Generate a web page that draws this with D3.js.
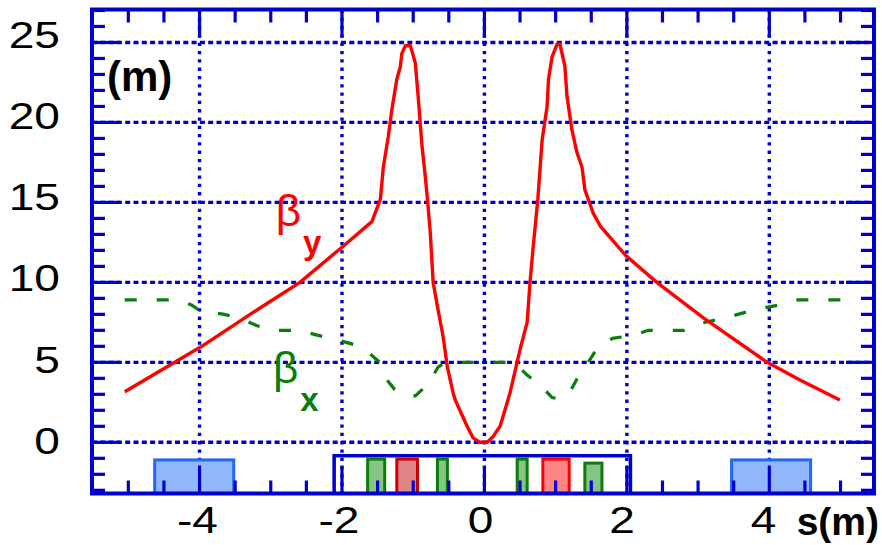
<!DOCTYPE html>
<html>
<head>
<meta charset="utf-8">
<script src="https://cdn.jsdelivr.net/npm/d3@7"></script>
<style>
  body { margin: 0; background: #fff; }
  text { font-family: "Liberation Sans", Arial, sans-serif; }
</style>
</head>
<body>
<svg class="beta-svg"></svg>
<script>
// beta functions around the IP (s in m, beta in m)
const beta_y_s = [-5.05, -3.98, -3.29, -2.59, -2.00, -1.58, -1.46, -1.42, -1.35, -1.30, -1.23, -1.18, -1.16, -1.11, -1.04,
  -0.97, -0.93, -0.88, -0.83, -0.80, -0.76, -0.72, -0.66, -0.58, -0.52, -0.44, -0.41, -0.24, -0.16, -0.06,
  0.04, 0.12, 0.22, 0.33, 0.36, 0.50, 0.60, 0.64, 0.68, 0.75, 0.81, 0.88, 0.90, 0.95, 1.02, 1.06,
  1.13, 1.16, 1.23, 1.30, 1.37, 1.41, 1.53, 1.63, 1.98, 2.42, 3.07, 3.97, 4.43, 4.99];
const beta_y = [3.16, 5.97, 8.0, 10.0, 12.2, 13.8, 15.2, 17.2, 19.1, 20.8, 22.7, 23.5, 24.3, 24.8, 24.8,
  23.7, 21.6, 18.7, 16.6, 15.2, 13.1, 10.0, 8.5, 6.6, 4.7, 3.1, 2.65, 0.97, 0.28, 0.0,
  0.0, 0.35, 1.0, 2.65, 3.1, 5.8, 7.5, 10.0, 12.0, 15.2, 18.9, 21.0, 22.7, 24.1, 24.9, 24.9,
  23.5, 21.6, 19.5, 18.1, 17.2, 15.8, 14.3, 13.5, 11.7, 10.0, 7.8, 5.0, 3.9, 2.65];

const beta_x_s = [-5.05, -4.3, -4.12, -3.98, -3.65, -3.4, -3.2, -3.0, -2.6, -2.35, -2.15, -1.9, -1.75, -1.6, -1.47,
  -1.35, -1.26, -1.1, -0.97, -0.8, -0.65, -0.55, 0.42, 0.6, 0.78, 0.95, 1.06, 1.22, 1.35, 1.47,
  1.6, 1.8, 2.1, 2.3, 2.8, 3.0, 3.4, 3.8, 4.15, 4.35, 5.2];
const beta_x = [8.9, 8.9, 8.6, 8.2, 8.0, 7.7, 7.3, 7.0, 7.0, 6.7, 6.5, 6.2, 6.0, 5.5, 5.0,
  3.8, 3.3, 2.9, 2.9, 3.6, 4.7, 5.0, 5.0, 4.2, 3.6, 2.8, 2.7, 3.3, 4.4, 5.1,
  6.0, 6.5, 6.7, 7.0, 7.0, 7.4, 7.8, 8.3, 8.6, 8.9, 8.9];

// magnets drawn under the axis (s from / to, top in beta units)
const magnet_kind = ["sol", "quad", "bendDark", "quad", "quad", "bend", "quad", "sol"];
const magnet_from = [-4.63, -1.64, -1.23, -0.66, 0.46, 0.82, 1.41, 3.47];
const magnet_to = [-3.52, -1.40, -0.94, -0.52, 0.60, 1.19, 1.65, 4.58];
const magnet_top = [-1.1, -1.05, -1.05, -1.05, -1.05, -1.05, -1.3, -1.1];
const detector = [-2.11, 2.05, -0.84];

const x_major = [-4, -2, 0, 2, 4];
const y_major = [0, 5, 10, 15, 20, 25];
const x_minor = d3.range(-5, 5.01, 0.5).filter(v => v % 2 != 0);
const y_minor = d3.range(-3, 27.01, 1).filter(v => v % 5 != 0);

const kind_style = {
  sol: { fill: "#92b6fb", stroke: "#1d6af7" },
  quad: { fill: "#86c486", stroke: "#0a7d0a" },
  bendDark: { fill: "#e08585", stroke: "#cc0000" },
  bend: { fill: "#ff8585", stroke: "#ff0000" }
};

const width = 882, height = 545;
const frame = "#0000cc";

const svg = d3.select('.beta-svg')
  .attr('width', width)
  .attr('height', height);

const x = d3.scaleLinear().domain([-5.51, 5.47]).range([92, 874]);
const y = d3.scaleLinear().domain([-3.2, 27.06]).range([493.5, 9.5]);
// the tick labels sit on a slightly different spacing than the grid
const label_x = d3.scaleLinear().domain([-4, 4]).range([197.5, 763.5]);
const label_y = d3.scaleLinear().domain([0, 25]).range([441, 34.5]);

const x0 = x.range()[0], x1 = x.range()[1];
const y0 = y.range()[0], y1 = y.range()[1];

// grid
svg.append('g').selectAll('line')
  .data(y_major).enter().append('line')
  .attr('x1', x0).attr('x2', x1)
  .attr('y1', d => y(d)).attr('y2', d => y(d))
  .attr('stroke', frame).attr('stroke-width', 3.4)
  .attr('stroke-dasharray', '5,3.3');

svg.append('g').selectAll('line')
  .data(x_major).enter().append('line')
  .attr('x1', d => x(d)).attr('x2', d => x(d))
  .attr('y1', y1).attr('y2', y0)
  .attr('stroke', frame).attr('stroke-width', 3.4)
  .attr('stroke-dasharray', '3.3,5');

// magnets
const magnets = magnet_kind.map((k, i) => ({ kind: k, from: magnet_from[i], to: magnet_to[i], top: magnet_top[i] }));
svg.append('g').selectAll('rect')
  .data(magnets).enter().append('rect')
  .attr('x', d => x(d.from))
  .attr('y', d => y(d.top))
  .attr('width', d => x(d.to) - x(d.from))
  .attr('height', d => y0 - y(d.top))
  .attr('fill', d => kind_style[d.kind].fill)
  .attr('stroke', d => kind_style[d.kind].stroke)
  .attr('stroke-width', 3);

svg.append('path')
  .attr('d', `M${x(detector[0])},${y0}V${y(detector[2])}H${x(detector[1])}V${y0}`)
  .attr('fill', 'none')
  .attr('stroke', frame)
  .attr('stroke-width', 3.5);

// curves
const line = d3.line().x(d => x(d[0])).y(d => y(d[1]));

svg.append('path')
  .datum(d3.zip(beta_x_s, beta_x))
  .attr('d', line)
  .attr('fill', 'none')
  .attr('stroke', '#0a7d0a')
  .attr('stroke-width', 3.2)
  .attr('stroke-dasharray', '12,20');

svg.append('path')
  .datum(d3.zip(beta_y_s, beta_y))
  .attr('d', line)
  .attr('fill', 'none')
  .attr('stroke', '#ff0000')
  .attr('stroke-width', 3.4)
  .attr('stroke-linejoin', 'round');

// inward ticks on all four sides
const tick_g = svg.append('g')
  .attr('stroke', frame)
  .attr('stroke-width', 3.2);

[[x_minor, 13], [x_major, 28]].forEach(t => {
  tick_g.selectAll(null).data(t[0]).enter().append('line')
    .attr('x1', d => x(d)).attr('x2', d => x(d))
    .attr('y1', y0).attr('y2', y0 - t[1]);
  tick_g.selectAll(null).data(t[0]).enter().append('line')
    .attr('x1', d => x(d)).attr('x2', d => x(d))
    .attr('y1', y1).attr('y2', y1 + t[1]);
});
[[y_minor, 13], [y_major, 28]].forEach(t => {
  tick_g.selectAll(null).data(t[0]).enter().append('line')
    .attr('y1', d => y(d)).attr('y2', d => y(d))
    .attr('x1', x0).attr('x2', x0 + t[1]);
  tick_g.selectAll(null).data(t[0]).enter().append('line')
    .attr('y1', d => y(d)).attr('y2', d => y(d))
    .attr('x1', x1).attr('x2', x1 - t[1]);
});

svg.append('rect')
  .attr('x', x0).attr('y', y1)
  .attr('width', x1 - x0)
  .attr('height', y0 - y1)
  .attr('fill', 'none')
  .attr('stroke', frame)
  .attr('stroke-width', 4);

// tick labels
svg.append('g').selectAll('text')
  .data(y_major).enter().append('text')
  .attr('transform', d => `translate(60,${label_y(d) + 13}) scale(1.28,1)`)
  .attr('text-anchor', 'end')
  .attr('font-size', 36)
  .text(d => d);

svg.append('g').selectAll('text')
  .data(x_major).enter().append('text')
  .attr('transform', d => `translate(${label_x(d)},533) scale(1.28,1)`)
  .attr('text-anchor', 'middle')
  .attr('font-size', 36)
  .text(d => d);

svg.append('text')
  .attr('x', 107).attr('y', 91)
  .attr('font-size', 42).attr('font-weight', 'bold')
  .text('(m)');

svg.append('text')
  .attr('x', 879).attr('y', 535)
  .attr('text-anchor', 'end')
  .attr('font-size', 39).attr('font-weight', 'bold')
  .text('s(m)');

// curve names
const names = [
  { sub: 'y', color: '#ff0000', s: -2.93, b: 13.5 },
  { sub: 'x', color: '#0a7d0a', s: -2.97, b: 3.7 }
];
names.forEach(n => {
  const t = svg.append('text')
    .attr('x', x(n.s)).attr('y', y(n.b))
    .attr('fill', n.color);
  t.append('tspan').attr('font-size', 44).text('β');
  t.append('tspan').attr('font-size', 33).attr('font-weight', 'bold')
    .attr('dx', 2).attr('dy', 28).text(n.sub);
});
</script>
</body>
</html>
